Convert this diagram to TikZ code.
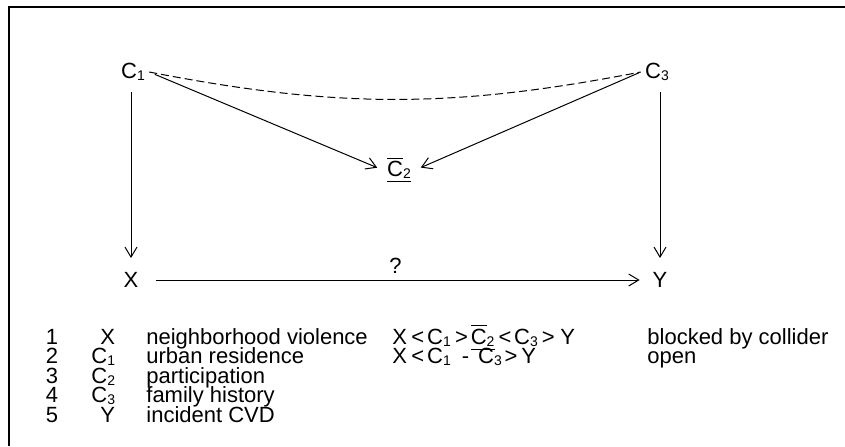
\documentclass[tikz,border=0pt]{standalone}
\usepackage{fontspec}
\setmainfont{Liberation Sans}
\usetikzlibrary{arrows.meta,positioning}
\newcommand{\sub}[1]{\raisebox{-1.2pt}{\fontsize{7}{7}\selectfont#1}}
\newcommand{\cbar}{\underline{$\overline{\hbox{C}}$\sub{2}}}
\newcommand{\gp}[1]{\hspace{#1pt}}

\begin{document}
\begin{tikzpicture}[x=0.5pt,y=0.5pt,
   font=\fontsize{11}{13}\selectfont,
   v/.style={inner sep=2pt},
   t/.style={inner sep=0pt,anchor=base west},
   arr/.style={-{Straight Barb[length=5pt,width=6pt]},line width=0.5pt}]
  \useasboundingbox (0,0) rectangle (845,446);
  \draw[line width=0.8pt] (9,0) -- (9,439) -- (845,439);
  % the graph
  \node[v] (c1) at (133,374) {C\sub{1}};
  \node[v] (c3) at (657,374) {C\sub{3}};
  \node[v] (c2) at (399,276) {\cbar};
  \node[v] (x) at (131,166) {X};
  \node[v] (y) at (660,166) {Y};
  \draw[arr,shorten <=3.3pt,shorten >=5pt] (c1.south -| x) -- (x.north);
  \draw[arr,shorten <=3.3pt,shorten >=5pt] (c3.south -| y) -- (y.north);
  \draw[arr,shorten <=3pt,shorten >=3pt] (c1.east) -- (c2.west);
  \draw[arr,shorten <=1pt,shorten >=3pt] (c3.west) -- (c2.east);
  \draw[line width=0.5pt,dash pattern=on 4pt off 2pt] (c1.east) to[bend right=11] (c3.west);
  \draw[arr,shorten <=6.5pt,shorten >=4.3pt] (x.east) -- (y.west)
     node[midway,above=0pt,inner sep=3pt] (q) {?};
  % legend
  \foreach \n/\xs/\sym/\desc [count=\i from 0] in
     {1/100/X/neighborhood violence, 2/91/C\sub{1}/urban residence,
      3/91/C\sub{2}/participation, 4/91/C\sub{3}/family history,
      5/100/Y/incident CVD}{
    \node[inner sep=0pt,anchor=base] (num\n) at (52,{102-19.5*\i}) {\n};
    \node[t] (sym\n) at (\xs,{102-19.5*\i}) {\sym};
    \node[t] (desc\n) at (146,{102-19.5*\i}) {\desc};
  }
  % paths
  \node[t] (path1) at (392,102) {X\gp{2.2}<\gp{1.4}C\sub{1}\gp{2.2}>\gp{1.4}\cbar\gp{2}<\gp{1.4}C\sub{3}\gp{2}>\gp{2.8}Y};
  \node[t] (path2) at (392,82.5) {X\gp{2.2}<\gp{1.4}C\sub{1}\gp{5.5}-\gp{4.5}C\sub{3}\gp{1.4}>\gp{2}Y};
  \node[t] (res1) at (647,102) {blocked by collider};
  \node[t] (res2) at (647,82.5) {open};
\end{tikzpicture}
\end{document}
